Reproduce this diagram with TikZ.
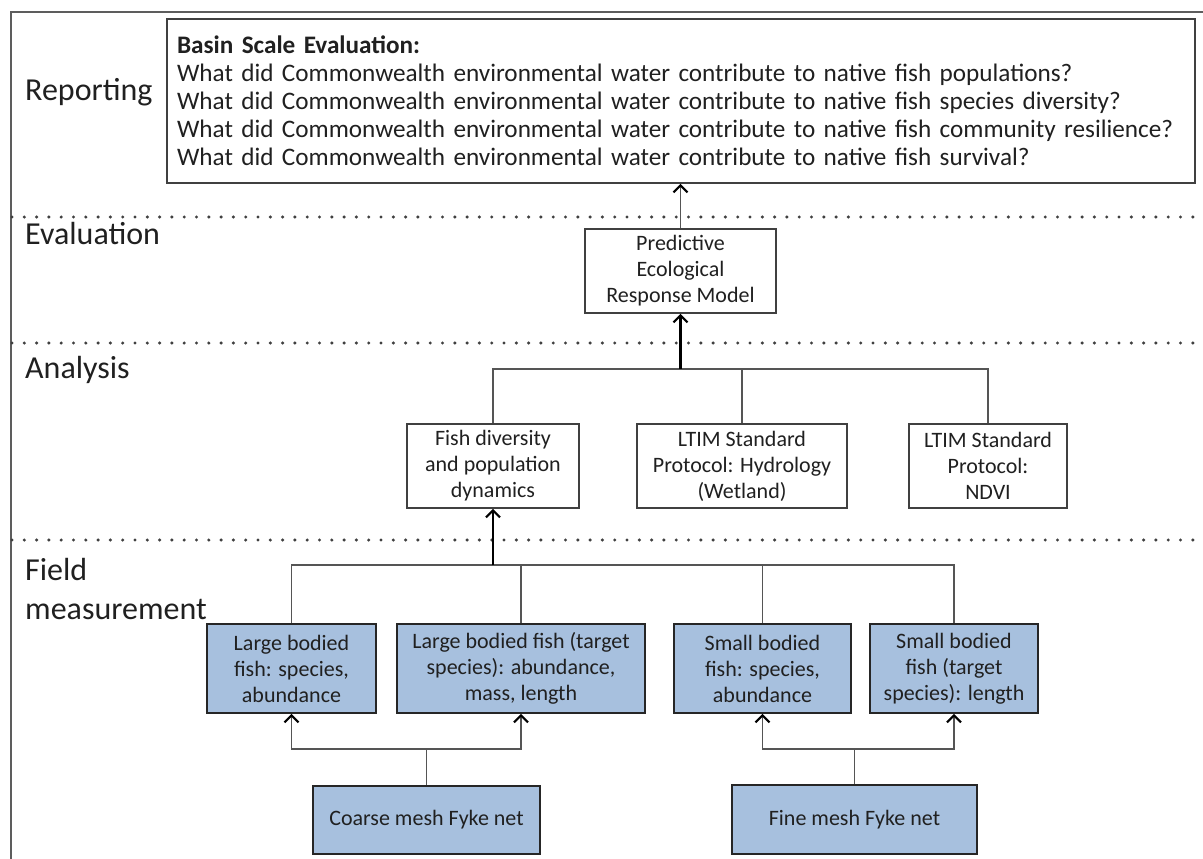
\documentclass[tikz,border=0pt]{standalone}
\usepackage{fontspec}
\setmainfont{Carlito}
\usetikzlibrary{arrows.meta}
\definecolor{boxblue}{HTML}{A7C0DE}
\definecolor{txt}{HTML}{202020}
\definecolor{edge}{HTML}{404040}
\definecolor{wire}{HTML}{555555}
\tikzset{
  lab/.style={anchor=base west, inner sep=0pt, text=txt, font=\fontsize{32}{39}\selectfont},
  box/.style={draw=edge, line width=1.6pt, inner sep=0pt, align=center, text=txt,
              font=\fontsize{22}{26}\selectfont},
  whitebox/.style={box, fill=white},
  bluebox/.style={box, fill=boxblue, draw=black!85},
  barb/.tip={Straight Barb[length=7pt,width=14pt,line width=2.2pt,color=black]},
  link/.style={draw=wire, line width=1.8pt},
  grayarrow/.style={link, -barb},
  trunk/.style={draw=black, line width=2.8pt, -barb},
  layerline/.style={draw=edge, line width=3.4pt, line cap=round, dash pattern=on 0pt off 12.3pt},
}
\begin{document}
\begin{tikzpicture}[x=1pt,y=-1pt]
\useasboundingbox (0,0) rectangle (1203,859);

% outer frame (left and top edges)
\draw[draw=edge!85, line width=2.2pt] (11,859) -- (11,12) -- (1203,12);

% layer separators
\draw[layerline] (12,217) -- (1203,217);
\draw[layerline] (12,343) -- (1203,343);
\draw[layerline] (12,540) -- (1203,540);

% layer names
\node[lab] (lrep) at (25,101) {Reporting};
\node[lab] (leva) at (25,244) {Evaluation};
\node[lab] (lana) at (25,378) {Analysis};
\node[lab] (lfi1) at (25,580) {Field};
\node[lab] (lfi2) at (25,619) {measurement};

% reporting
\node[whitebox, minimum width=1028pt, minimum height=164pt, text width=1008pt, align=left,
      font=\fontsize{25.2}{28}\selectfont] (basin) at (681,101)
  {\textbf{Basin Scale Evaluation:}\\
   What did Commonwealth environmental water contribute to native fish populations?\\
   What did Commonwealth environmental water contribute to native fish species diversity?\\
   What did Commonwealth environmental water contribute to native fish community resilience?\\
   What did Commonwealth environmental water contribute to native fish survival?};

% evaluation
\node[whitebox, minimum width=191pt, minimum height=84pt] (eval) at (680.5,271)
  {Predictive\\Ecological\\Response Model};

% analysis
\node[whitebox, minimum width=172pt, minimum height=84pt] (fish) at (493,466)
  {Fish diversity\\and population\\dynamics};
\node[whitebox, minimum width=210pt, minimum height=84pt] (hydro) at (742,466)
  {LTIM Standard\\Protocol: Hydrology\\(Wetland)};
\node[whitebox, minimum width=158pt, minimum height=84pt] (ndvi) at (988,466)
  {LTIM Standard\\Protocol:\\NDVI};

% field measurement
\node[bluebox, minimum width=169pt, minimum height=89pt] (lb1) at (291.5,668.5)
  {Large bodied\\fish: species,\\abundance};
\node[bluebox, minimum width=248pt, minimum height=89pt] (lb2) at (521,668.5)
  {Large bodied fish (target\\species): abundance,\\mass, length};
\node[bluebox, minimum width=177pt, minimum height=89pt] (sb1) at (762.5,668.5)
  {Small bodied\\fish: species,\\abundance};
\node[bluebox, minimum width=168pt, minimum height=89pt] (sb2) at (954,668.5)
  {Small bodied\\fish (target\\species): length};
\node[bluebox, minimum width=227pt, minimum height=68pt] (coarse) at (426.5,820)
  {Coarse mesh Fyke net};
\node[bluebox, minimum width=245pt, minimum height=69pt] (fine) at (854.5,819.5)
  {Fine mesh Fyke net};

% junction levels
\path (0,369) coordinate (yE) (0,565) coordinate (yF) (0,749) coordinate (yN);
\coordinate (jE) at (eval.south |- yE);
\coordinate (jF) at (fish.south |- yF);

% evaluation -> reporting
\draw[grayarrow] (eval.north) -- (eval.north |- basin.south);

% analysis -> evaluation
\draw[link] (fish.north) |- (jE);
\draw[link] (hydro.north) |- (jE);
\draw[link] (ndvi.north) |- (jE);
\draw[trunk] (jE) -- (eval.south);

% field measurement -> analysis
\draw[link] (lb1.north) |- (jF);
\draw[link] (lb2.north) |- (jF);
\draw[link] (sb1.north) |- (jF);
\draw[link] (sb2.north) |- (jF);
\draw[trunk] (jF) -- (fish.south);

% nets -> field measurements
\draw[grayarrow] (coarse.north) -- (coarse.north |- yN) -| (lb1.south);
\draw[grayarrow] (coarse.north) -- (coarse.north |- yN) -| (lb2.south);
\draw[grayarrow] (fine.north) -- (fine.north |- yN) -| (sb1.south);
\draw[grayarrow] (fine.north) -- (fine.north |- yN) -| (sb2.south);
\end{tikzpicture}
\end{document}
